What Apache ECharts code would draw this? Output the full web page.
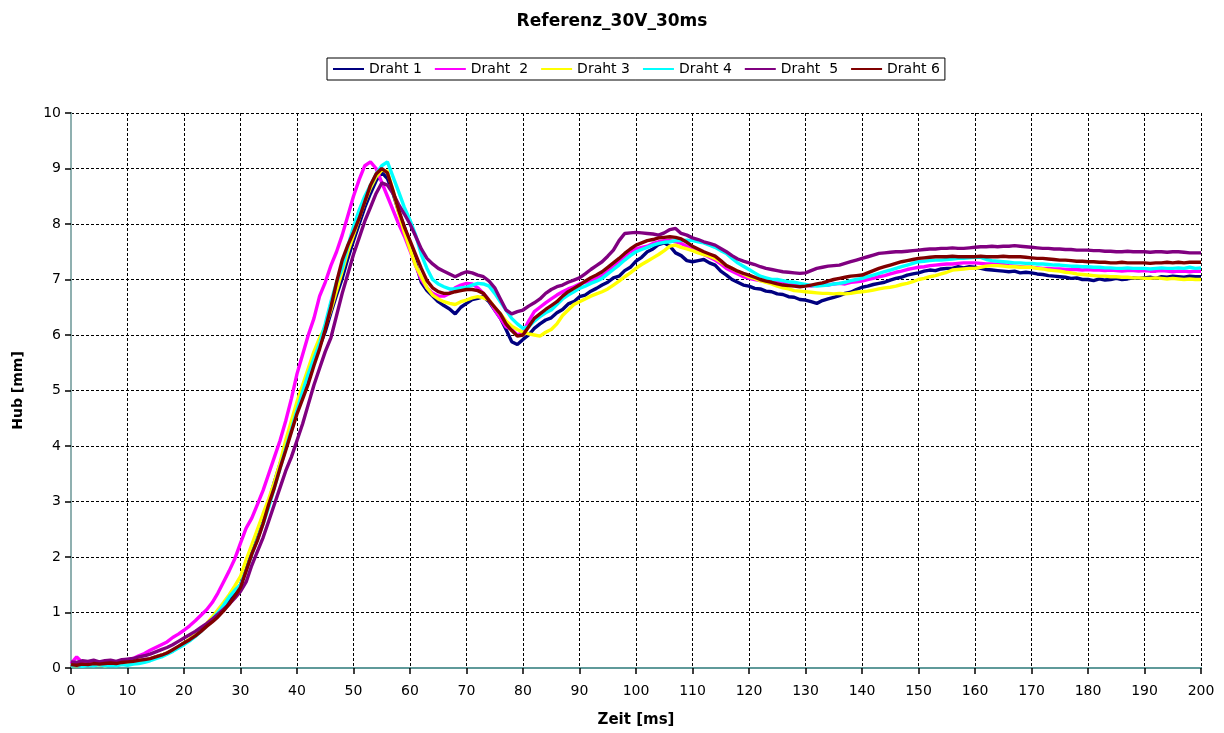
<!DOCTYPE html>
<html>
<head>
<meta charset="utf-8">
<title>Referenz_30V_30ms</title>
<script src="https://cdn.jsdelivr.net/npm/echarts@6/dist/echarts.min.js"></script>
<style>
  html, body { margin: 0; padding: 0; background: #fff; }
  #chart { width: 1224px; height: 733px; }
</style>
</head>
<body>
<div id="chart"></div>
<script>
// Hub (mm) je Draht, abgetastet in 1-ms-Schritten von 0 bis 200 ms
const seriesNames = ['Draht 1', 'Draht  2', 'Draht 3', 'Draht 4', 'Draht  5', 'Draht 6'];
const seriesColors = ['#000080', '#ff00ff', '#ffff00', '#00ffff', '#800080', '#800000'];
const xTicks = [0, 10, 20, 30, 40, 50, 60, 70, 80, 90, 100, 110, 120, 130, 140, 150, 160, 170, 180, 190, 200];
const yTicks = [0, 1, 2, 3, 4, 5, 6, 7, 8, 9, 10];

const draht1 = [
  0.06,0.04,0.07,0.05,0.08,0.06,0.05,0.08,0.07,0.09,
  0.08,0.10,0.12,0.15,0.16,0.20,0.23,0.27,0.31,0.38,
  0.45,0.51,0.60,0.68,0.78,0.87,0.98,1.10,1.22,1.36,
  1.50,1.78,2.12,2.42,2.72,3.00,3.35,3.68,4.00,4.32,
  4.63,4.95,5.25,5.52,5.80,6.06,6.40,6.72,7.02,7.38,
  7.70,8.00,8.30,8.55,8.78,8.93,8.82,8.55,8.22,7.95,
  7.62,7.30,6.95,6.80,6.70,6.60,6.53,6.47,6.38,6.50,
  6.57,6.64,6.66,6.69,6.60,6.45,6.30,6.10,5.88,5.83,
  5.92,6.00,6.12,6.20,6.27,6.31,6.40,6.46,6.56,6.60,
  6.69,6.72,6.79,6.84,6.90,6.95,7.03,7.06,7.16,7.22,
  7.33,7.40,7.50,7.55,7.63,7.66,7.60,7.48,7.43,7.34,
  7.32,7.34,7.36,7.30,7.26,7.15,7.08,7.00,6.95,6.90,
  6.88,6.84,6.83,6.79,6.78,6.74,6.73,6.69,6.68,6.64,
  6.63,6.60,6.57,6.62,6.65,6.68,6.71,6.75,6.77,6.82,
  6.86,6.88,6.91,6.93,6.95,6.99,7.02,7.04,7.08,7.10,
  7.12,7.15,7.17,7.16,7.19,7.20,7.20,7.23,7.21,7.23,
  7.22,7.20,7.18,7.17,7.16,7.15,7.14,7.15,7.12,7.13,
  7.12,7.10,7.09,7.07,7.06,7.05,7.04,7.02,7.03,7.00,
  7.00,6.98,7.01,6.99,7.00,7.02,7.00,7.01,7.03,7.02,
  7.03,7.04,7.02,7.05,7.04,7.06,7.05,7.04,7.06,7.05,
  7.05
];
const draht2 = [
  0.08,0.20,0.10,0.09,0.11,0.10,0.12,0.10,0.11,0.13,
  0.15,0.17,0.22,0.26,0.32,0.37,0.42,0.47,0.55,0.61,
  0.68,0.76,0.85,0.95,1.05,1.18,1.35,1.55,1.75,1.97,
  2.25,2.52,2.70,2.95,3.20,3.50,3.80,4.10,4.45,4.85,
  5.30,5.65,6.00,6.30,6.70,6.95,7.25,7.50,7.80,8.15,
  8.50,8.80,9.05,9.12,9.00,8.75,8.50,8.25,8.00,7.78,
  7.52,7.25,7.00,6.85,6.75,6.70,6.70,6.75,6.85,6.90,
  6.93,6.92,6.85,6.75,6.63,6.45,6.30,6.15,6.10,6.00,
  6.05,6.25,6.42,6.50,6.58,6.65,6.72,6.78,6.83,6.87,
  6.92,6.95,6.98,7.02,7.07,7.15,7.25,7.33,7.42,7.50,
  7.55,7.58,7.60,7.65,7.68,7.70,7.70,7.68,7.65,7.60,
  7.55,7.50,7.45,7.40,7.35,7.28,7.20,7.15,7.10,7.05,
  7.02,7.00,6.98,6.97,6.95,6.95,6.93,6.92,6.90,6.90,
  6.90,6.88,6.90,6.91,6.90,6.92,6.93,6.92,6.95,6.96,
  6.97,7.00,7.02,7.05,7.07,7.10,7.13,7.15,7.18,7.20,
  7.22,7.23,7.25,7.26,7.27,7.28,7.28,7.29,7.30,7.30,
  7.30,7.29,7.28,7.28,7.27,7.27,7.25,7.24,7.23,7.22,
  7.22,7.21,7.20,7.20,7.19,7.19,7.18,7.18,7.18,7.17,
  7.18,7.17,7.17,7.16,7.17,7.16,7.15,7.16,7.16,7.15,
  7.16,7.15,7.15,7.16,7.15,7.14,7.15,7.15,7.14,7.15,
  7.15
];
const draht3 = [
  0.05,0.04,0.06,0.05,0.05,0.06,0.04,0.06,0.05,0.07,
  0.06,0.08,0.10,0.12,0.16,0.20,0.23,0.27,0.32,0.38,
  0.45,0.52,0.60,0.70,0.80,0.92,1.05,1.18,1.32,1.48,
  1.65,1.95,2.22,2.50,2.78,3.05,3.35,3.70,4.10,4.45,
  4.80,5.10,5.40,5.70,5.95,6.15,6.45,6.80,7.15,7.50,
  7.80,8.10,8.40,8.65,8.85,8.97,8.95,8.60,8.20,7.85,
  7.55,7.25,7.05,6.85,6.72,6.65,6.60,6.57,6.55,6.60,
  6.63,6.67,6.69,6.67,6.63,6.50,6.38,6.25,6.16,6.10,
  6.05,6.02,6.00,5.98,6.05,6.10,6.20,6.35,6.45,6.55,
  6.60,6.65,6.70,6.74,6.78,6.83,6.90,6.97,7.05,7.12,
  7.20,7.27,7.33,7.39,7.45,7.52,7.60,7.62,7.58,7.55,
  7.52,7.48,7.45,7.42,7.38,7.32,7.25,7.20,7.15,7.10,
  7.05,7.02,6.98,6.95,6.92,6.88,6.85,6.83,6.80,6.79,
  6.78,6.77,6.76,6.75,6.75,6.74,6.75,6.74,6.75,6.77,
  6.78,6.79,6.81,6.83,6.85,6.86,6.88,6.91,6.93,6.96,
  7.00,7.02,7.05,7.07,7.10,7.13,7.17,7.18,7.19,7.20,
  7.20,7.22,7.24,7.25,7.25,7.24,7.23,7.23,7.22,7.22,
  7.22,7.20,7.19,7.17,7.16,7.15,7.13,7.12,7.10,7.09,
  7.08,7.07,7.06,7.06,7.05,7.05,7.04,7.04,7.03,7.03,
  7.02,7.02,7.03,7.02,7.01,7.02,7.01,7.00,7.01,7.00,
  7.00
];
const draht4 = [
  0.04,0.05,0.03,0.05,0.04,0.06,0.04,0.05,0.04,0.06,
  0.05,0.07,0.08,0.10,0.13,0.17,0.20,0.25,0.30,0.36,
  0.42,0.49,0.57,0.66,0.76,0.88,1.00,1.13,1.28,1.40,
  1.50,1.75,2.05,2.32,2.60,2.90,3.25,3.60,3.95,4.30,
  4.65,4.98,5.30,5.58,5.85,6.20,6.60,6.95,7.20,7.60,
  7.95,8.25,8.50,8.70,8.90,9.05,9.12,8.85,8.58,8.30,
  8.07,7.80,7.45,7.20,7.00,6.92,6.87,6.83,6.83,6.85,
  6.86,6.90,6.93,6.92,6.88,6.75,6.60,6.45,6.30,6.20,
  6.12,6.15,6.25,6.33,6.40,6.45,6.55,6.65,6.72,6.78,
  6.84,6.88,6.93,6.97,7.02,7.10,7.18,7.26,7.35,7.43,
  7.50,7.54,7.58,7.62,7.65,7.67,7.68,7.70,7.70,7.71,
  7.70,7.68,7.66,7.62,7.58,7.52,7.47,7.38,7.30,7.24,
  7.18,7.12,7.06,7.03,7.00,7.00,6.98,6.96,6.95,6.93,
  6.91,6.89,6.88,6.89,6.90,6.92,6.93,6.95,6.98,7.00,
  7.02,7.05,7.08,7.11,7.14,7.17,7.20,7.23,7.26,7.29,
  7.32,7.33,7.34,7.35,7.35,7.36,7.37,7.38,7.38,7.39,
  7.40,7.40,7.36,7.34,7.33,7.32,7.31,7.30,7.30,7.29,
  7.29,7.28,7.28,7.27,7.26,7.26,7.25,7.24,7.24,7.23,
  7.23,7.22,7.22,7.21,7.21,7.20,7.20,7.21,7.20,7.20,
  7.20,7.19,7.20,7.21,7.20,7.20,7.21,7.20,7.22,7.20,
  7.21
];
const draht5 = [
  0.11,0.10,0.13,0.12,0.14,0.11,0.13,0.14,0.12,0.15,
  0.16,0.17,0.20,0.22,0.25,0.29,0.33,0.37,0.42,0.48,
  0.54,0.60,0.66,0.73,0.80,0.88,0.97,1.06,1.15,1.26,
  1.38,1.55,1.85,2.10,2.35,2.65,2.95,3.25,3.55,3.80,
  4.10,4.40,4.75,5.10,5.40,5.70,5.95,6.35,6.75,7.10,
  7.45,7.75,8.05,8.30,8.55,8.74,8.70,8.55,8.35,8.18,
  8.00,7.78,7.55,7.38,7.28,7.20,7.15,7.10,7.05,7.10,
  7.14,7.12,7.08,7.05,6.97,6.85,6.65,6.45,6.38,6.42,
  6.45,6.52,6.58,6.65,6.75,6.82,6.87,6.90,6.95,6.99,
  7.03,7.10,7.18,7.25,7.32,7.42,7.53,7.70,7.83,7.84,
  7.85,7.84,7.83,7.82,7.80,7.84,7.90,7.92,7.83,7.80,
  7.75,7.72,7.68,7.65,7.62,7.56,7.50,7.43,7.37,7.33,
  7.30,7.27,7.23,7.20,7.18,7.16,7.14,7.13,7.12,7.11,
  7.12,7.16,7.20,7.22,7.24,7.25,7.26,7.29,7.32,7.35,
  7.38,7.41,7.44,7.47,7.48,7.49,7.50,7.50,7.51,7.52,
  7.53,7.54,7.55,7.55,7.56,7.56,7.57,7.56,7.56,7.57,
  7.58,7.59,7.59,7.60,7.59,7.60,7.60,7.61,7.60,7.59,
  7.58,7.57,7.56,7.56,7.55,7.55,7.54,7.54,7.53,7.53,
  7.53,7.52,7.52,7.51,7.51,7.50,7.50,7.51,7.50,7.50,
  7.50,7.49,7.50,7.50,7.49,7.50,7.50,7.49,7.48,7.48,
  7.48
];
const draht6 = [
  0.06,0.05,0.07,0.06,0.08,0.07,0.08,0.09,0.08,0.10,
  0.11,0.12,0.14,0.15,0.17,0.20,0.23,0.27,0.33,0.39,
  0.45,0.51,0.58,0.66,0.75,0.83,0.92,1.03,1.15,1.30,
  1.45,1.75,2.05,2.30,2.60,2.95,3.25,3.60,3.92,4.25,
  4.58,4.85,5.12,5.45,5.75,6.10,6.50,6.95,7.35,7.62,
  7.85,8.10,8.40,8.70,8.90,9.00,8.92,8.60,8.25,7.95,
  7.70,7.45,7.20,6.98,6.85,6.78,6.75,6.75,6.78,6.80,
  6.82,6.82,6.80,6.75,6.62,6.50,6.38,6.20,6.08,5.98,
  6.00,6.15,6.30,6.38,6.46,6.53,6.60,6.70,6.78,6.84,
  6.90,6.97,7.03,7.08,7.14,7.22,7.30,7.38,7.47,7.55,
  7.62,7.66,7.70,7.72,7.75,7.76,7.77,7.76,7.73,7.67,
  7.60,7.55,7.50,7.46,7.42,7.34,7.25,7.20,7.15,7.11,
  7.08,7.04,7.00,6.97,6.95,6.92,6.90,6.89,6.88,6.87,
  6.88,6.90,6.92,6.94,6.97,7.00,7.02,7.04,7.06,7.07,
  7.08,7.12,7.16,7.20,7.23,7.26,7.29,7.32,7.34,7.36,
  7.38,7.39,7.40,7.41,7.41,7.41,7.42,7.41,7.41,7.41,
  7.41,7.42,7.41,7.41,7.41,7.42,7.41,7.41,7.41,7.40,
  7.39,7.38,7.38,7.37,7.36,7.35,7.35,7.34,7.33,7.33,
  7.32,7.32,7.31,7.31,7.30,7.30,7.31,7.30,7.30,7.30,
  7.30,7.29,7.30,7.30,7.31,7.30,7.31,7.30,7.31,7.31,
  7.31
];

const allValues = [draht1, draht2, draht3, draht4, draht5, draht6];
const FONT = 'DejaVu Sans, Liberation Sans, Arial, sans-serif';

// each sample i lies at i ms
function toPairs(values) {
  return values.map((v, i) => [i, v]);
}

const chart = echarts.init(document.getElementById('chart'), null, { renderer: 'canvas' });

const series = allValues.map((vals, k) => ({
  name: seriesNames[k],
  type: 'line',
  data: toPairs(vals),
  xAxisIndex: 0,
  yAxisIndex: 0,
  symbol: 'none',
  showSymbol: false,
  smooth: false,
  lineStyle: { color: seriesColors[k], width: 3.4 },
  itemStyle: { color: seriesColors[k] },
  z: 3 + k
}));

chart.setOption({
  animation: false,
  backgroundColor: '#ffffff',
  textStyle: { fontFamily: FONT, color: '#000' },
  title: {
    text: 'Referenz_30V_30ms',
    left: 'center',
    top: 8,
    textStyle: { fontFamily: FONT, fontSize: 17, fontWeight: 'bold', color: '#000' }
  },
  legend: {
    left: 327,
    top: 58,
    orient: 'horizontal',
    data: seriesNames,
    icon: 'rect',
    itemWidth: 31,
    itemHeight: 2,
    itemGap: 13,
    padding: [4, 5, 4, 6],
    borderColor: '#000',
    borderWidth: 1,
    borderRadius: 0,
    backgroundColor: '#fff',
    textStyle: { fontFamily: FONT, fontSize: 14, color: '#000' }
  },
  grid: {
    left: 71,
    right: 23,
    top: 113,
    bottom: 65,
    show: false
  },
  xAxis: [
    {
      type: 'value',
      min: xTicks[0],
      max: xTicks[xTicks.length - 1],
      interval: 10,
      name: 'Zeit [ms]',
      nameLocation: 'middle',
      nameGap: 45,
      nameTextStyle: { fontFamily: FONT, fontSize: 15, fontWeight: 'bold', color: '#000' },
      axisLine: { show: true, onZero: false, lineStyle: { color: '#3c6262', width: 2 } },
      axisTick: { show: true, inside: false, length: 6, lineStyle: { color: '#000', width: 1.5 } },
      axisLabel: { fontFamily: FONT, fontSize: 14, color: '#000', margin: 16 },
      splitLine: { show: true, lineStyle: { color: '#000', width: 1, type: [3, 2] } }
    },
    {
      type: 'value',
      position: 'top',
      min: xTicks[0],
      max: xTicks[xTicks.length - 1],
      axisLine: { show: true, lineStyle: { color: '#5f9a9a', width: 2 } },
      axisTick: { show: false },
      axisLabel: { show: false },
      splitLine: { show: false }
    }
  ],
  yAxis: [
    {
      type: 'value',
      min: yTicks[0],
      max: yTicks[yTicks.length - 1],
      interval: 1,
      name: 'Hub [mm]',
      nameLocation: 'middle',
      nameGap: 46,
      nameTextStyle: { fontFamily: FONT, fontSize: 14, fontWeight: 'bold', color: '#000' },
      axisLine: { show: true, onZero: false, lineStyle: { color: '#000', width: 2 } },
      axisTick: { show: true, inside: false, length: 6, lineStyle: { color: '#000', width: 1.5 } },
      axisLabel: { fontFamily: FONT, fontSize: 14, color: '#000', margin: 10 },
      splitLine: { show: true, lineStyle: { color: '#000', width: 1, type: [3, 2] } }
    },
    {
      type: 'value',
      position: 'right',
      min: yTicks[0],
      max: yTicks[yTicks.length - 1],
      axisLine: { show: true, lineStyle: { color: '#8fb0b0', width: 2 } },
      axisTick: { show: false },
      axisLabel: { show: false },
      splitLine: { show: false }
    }
  ],
  series: series
});
</script>
</body>
</html>
